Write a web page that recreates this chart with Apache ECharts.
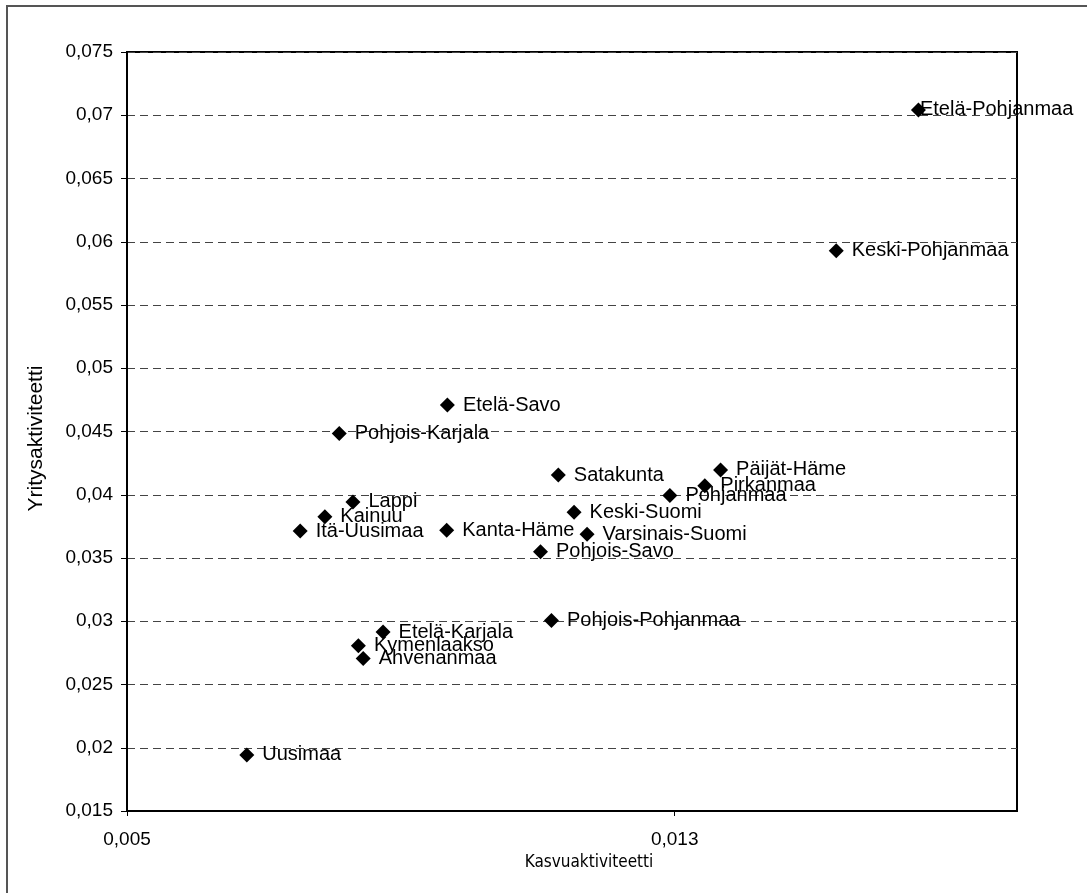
<!DOCTYPE html>
<html>
<head>
<meta charset="utf-8">
<script src="https://cdn.jsdelivr.net/npm/echarts@6/dist/echarts.min.js"></script>
<style>
html,body{margin:0;padding:0;background:#fff;}
#chart{width:1087px;height:893px;}
</style>
</head>
<body>
<div id="chart"></div>
<script>
var regions = ["Etelä-Pohjanmaa","Keski-Pohjanmaa","Etelä-Savo","Pohjois-Karjala","Satakunta","Päijät-Häme","Pirkanmaa","Pohjanmaa","Keski-Suomi","Varsinais-Suomi","Pohjois-Savo","Kanta-Häme","Lappi","Kainuu","Itä-Uusimaa","Pohjois-Pohjanmaa","Etelä-Karjala","Kymenlaakso","Ahvenanmaa","Uusimaa"];
var kasvuaktiviteetti = [0.01656,0.01536,0.00968,0.00810,0.01130,0.01367,0.01344,0.01293,0.01153,0.01172,0.01104,0.00967,0.00830,0.00789,0.00753,0.01120,0.00874,0.00838,0.00845,0.00675];
var yritysaktiviteetti = [0.07042,0.05928,0.04709,0.04484,0.04156,0.04196,0.04072,0.03994,0.03861,0.03687,0.03549,0.03719,0.03943,0.03827,0.03713,0.03006,0.02915,0.02806,0.02705,0.01943];
var xTicks = [0.005, 0.013];

var data = regions.map(function(n,i){
  return {name:n, value:[kasvuaktiviteetti[i], yritysaktiviteetti[i]]};
});

var chart = echarts.init(document.getElementById('chart'));
function fmt(v){ return String(+v.toFixed(4)).replace('.', ','); }
chart.setOption({
  animation:false,
  backgroundColor:'#fff',
  graphic:[{type:'rect', shape:{x:7,y:6,width:1300,height:1100}, style:{fill:'none',stroke:'#555',lineWidth:2}, silent:true, z:-10}],
  grid:{left:127,right:70,top:52,bottom:82,containLabel:false, show:true, borderColor:'#000', borderWidth:2, backgroundColor:'#fff'},
  xAxis:{
    type:'value', min:0.005, max:0.018, interval:0.008,
    name:'Kasvuaktiviteetti', nameLocation:'middle', nameGap:38,
    nameTextStyle:{fontFamily:'Liberation Sans Narrow, DejaVu Sans Condensed, Liberation Sans', fontSize:17, color:'#000', padding:[0,0,0,34]},
    axisLine:{show:true, lineStyle:{color:'#000', width:2}},
    axisTick:{show:true, length:5, lineStyle:{color:'#000'}, customValues: xTicks},
    axisLabel:{color:'#000', fontFamily:'Liberation Sans, Arial', fontSize:19, margin:19, formatter:fmt,
      customValues: xTicks},
    splitLine:{show:false}
  },
  yAxis:{
    type:'value', min:0.015, max:0.075, interval:0.005,
    name:'Yritysaktiviteetti', nameLocation:'middle', nameGap:80,
    nameTextStyle:{fontFamily:'Liberation Sans, Arial', fontSize:21, color:'#000', padding:[0,14,0,0]},
    axisLine:{show:true, lineStyle:{color:'#000', width:2}},
    axisTick:{show:true, length:6, lineStyle:{color:'#000'}},
    axisLabel:{color:'#000', fontFamily:'Liberation Sans, Arial', fontSize:19, margin:14, formatter:fmt},
    splitLine:{show:true, lineStyle:{color:'#444', type:[8,5], width:1}}
  },
  series:[{
    type:'scatter', symbol:'diamond', symbolSize:[15,15],
    itemStyle:{color:'#000', opacity:1},
    label:{show:true, position:'right', distance:8, formatter:'{b}', color:'#000', fontFamily:'Liberation Sans, Arial', fontSize:20},
    labelLayout:function(p){
      return p.dataIndex === 0 ? {dx:-14, hideOverlap:false} : {hideOverlap:false};
    },
    data:data
  }]
});
</script>
</body>
</html>
